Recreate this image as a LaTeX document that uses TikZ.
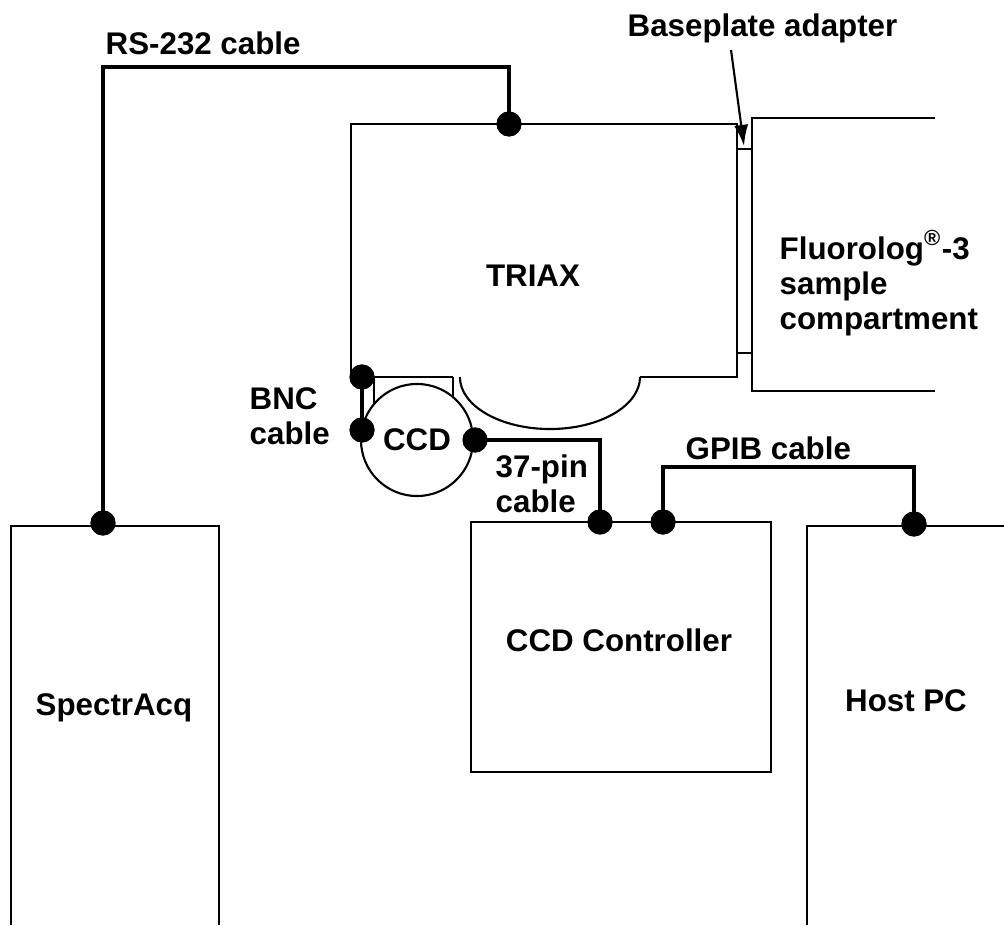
\documentclass[tikz,border=0pt]{standalone}
\usepackage{fontspec}
\setmainfont{Liberation Sans}
\usetikzlibrary{arrows.meta}

\tikzset{
  wire/.style={line width=0.6pt},
  cable/.style={line width=1.3pt},
  plug/.style={circle,fill=black,inner sep=0pt,minimum size=0.25cm},
  lbl/.style={font=\bfseries\fontsize{8.9}{9.96}\selectfont,inner sep=0pt},
}

\begin{document}
\begin{tikzpicture}[x=0.01cm,y=-0.01cm]
\useasboundingbox (0,0) rectangle (1004,925);

% instrument outlines
\draw[wire] (11,925) -- (11,526) -- (219,526) -- (219,925);
\draw[wire] (471,522) rectangle (771,772);
\draw[wire] (807,925) -- (807,526) -- (1004,526);
\draw[wire] (453,377) -- (351,377) -- (351,124) -- (737,124) -- (737,377) -- (640,377);
\draw[wire] (640,377) arc[start angle=0,end angle=-180,x radius=0.9cm,y radius=0.52cm];
\draw[wire] (737,149) -- (752,149) (737,353) -- (752,353);
\draw[wire] (935,118) -- (752,118) -- (752,391) -- (935,391);

% CCD head
\node[wire,draw,circle,minimum size=1.12cm,inner sep=0pt] (ccd) at (417,440) {};
\draw[wire] (374,377) -- (374,404) (453,377) -- (453,397);

% connectors
\node[plug] (rsA) at (103,523) {};
\node[plug] (rsB) at (509,124) {};
\node[plug] (bncA) at (362,377) {};
\node[plug] (bncB) at (362,430) {};
\node[plug] (pinA) at (475,440) {};
\node[plug] (pinB) at (600,522) {};
\node[plug] (gpA) at (663,522) {};
\node[plug] (gpB) at (914,524) {};

\draw[cable] (rsA.center) -- (103,67) -| (rsB.center);
\draw[cable] (bncA.center) -- (bncB.center);
\draw[cable] (pinA.center) -| (pinB.center);
\draw[cable] (gpA.center) -- (663,467) -| (gpB.center);
\foreach \p in {rsA,rsB,bncA,bncB,pinA,pinB,gpA,gpB}
  \fill (\p) circle (0.125cm);

% labels
\node[lbl,anchor=base west] (rslbl) at (105,55) {RS-232 cable};
\node[lbl,anchor=base west] (adapter) at (627,37) {Baseplate adapter};
\coordinate (adtail) at (731,50);
\coordinate (adtip) at (744,146);
\draw[wire,-{Latex[length=6pt,width=4pt]}] (adtail) -- (adtip);

\node[lbl,anchor=base] (triax) at (533,287) {TRIAX};
\node[lbl,anchor=west,align=left] (fluoro) at (779,283)
  {Fluorolog\textsuperscript{®}-3\\sample\\compartment};
\node[lbl] (ccdlbl) at (ccd) {CCD};
\node[lbl,anchor=west,align=left] (bnclbl) at (249,416) {BNC\\cable};
\node[lbl,anchor=west,align=left] (pinlbl) at (495,484) {37-pin\\cable};
\node[lbl,anchor=base west] (gplbl) at (685,459) {GPIB cable};
\node[lbl,anchor=base] (spec) at (114,715) {SpectrAcq};
\node[lbl,anchor=base] (ctrl) at (619,651) {CCD Controller};
\node[lbl,anchor=base] (host) at (906,711) {Host PC};
\end{tikzpicture}
\end{document}
